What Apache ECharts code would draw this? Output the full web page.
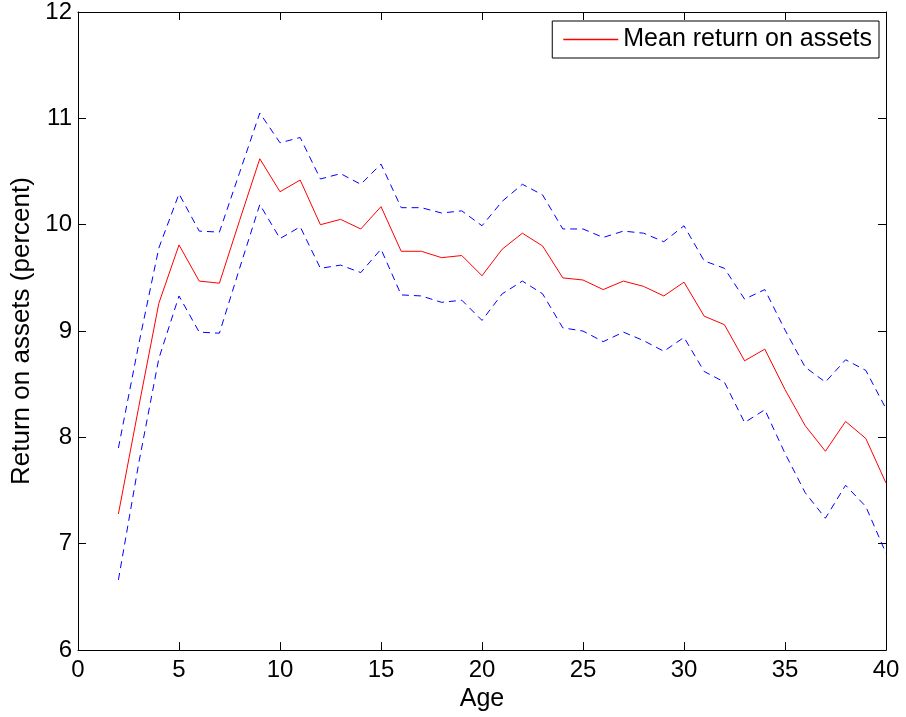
<!DOCTYPE html>
<html>
<head>
<meta charset="utf-8">
<script src="https://cdn.jsdelivr.net/npm/echarts@6/dist/echarts.min.js"></script>
<style>
html,body{margin:0;padding:0;background:#fff;}
#chart{width:906px;height:717px;}
</style>
</head>
<body>
<div id="chart"></div>
<script>
const ages = [2,3,4,5,6,7,8,9,10,11,12,13,14,15,16,17,18,19,20,21,22,23,24,25,26,27,28,29,30,31,32,33,34,35,36,37,38,39,40];
const meanReturn = [7.28,8.28,9.26,9.81,9.47,9.45,10.04,10.62,10.31,10.42,10.00,10.05,9.96,10.17,9.75,9.75,9.69,9.71,9.52,9.77,9.92,9.80,9.50,9.48,9.39,9.47,9.42,9.33,9.46,9.14,9.06,8.72,8.83,8.45,8.11,7.87,8.15,7.99,7.57];
const upperBand = [7.90,8.87,9.78,10.29,9.94,9.93,10.49,11.05,10.77,10.82,10.43,10.48,10.38,10.57,10.16,10.16,10.11,10.13,9.99,10.22,10.38,10.28,9.96,9.96,9.88,9.94,9.92,9.84,9.99,9.66,9.59,9.30,9.39,9.01,8.66,8.52,8.73,8.63,8.27];
const lowerBand = [6.66,7.75,8.74,9.33,8.99,8.98,9.59,10.19,9.87,9.98,9.59,9.62,9.55,9.77,9.34,9.33,9.27,9.29,9.10,9.35,9.47,9.35,9.03,9.00,8.90,8.99,8.91,8.81,8.94,8.62,8.52,8.14,8.26,7.85,7.48,7.24,7.55,7.35,6.91];
const xTicks = {min:0, max:40, interval:5};
const yTicks = {min:6, max:12, interval:1};
const legendLabel = 'Mean return on assets';

const pair = arr => ages.map((a,i)=>[a,arr[i]]);
const font = 'Liberation Sans, Arial, Helvetica, sans-serif';
const chart = echarts.init(document.getElementById('chart'), null, {renderer:'canvas'});
const axisCommon = {
  axisLine:{show:true,onZero:false,lineStyle:{color:'#000',width:1}},
  axisTick:{show:true,inside:true,length:8,lineStyle:{color:'#000',width:1}},
  splitLine:{show:false}
};
chart.setOption({
  animation:false,
  backgroundColor:'#fff',
  grid:{left:78,right:20,top:11,bottom:66,containLabel:false},
  legend:{
    data:[{name:legendLabel,icon:'rect',itemStyle:{color:'#ff0000',borderWidth:0,opacity:1}}],
    right:27, top:21,
    orient:'vertical',
    backgroundColor:'#fff',
    borderColor:'#000', borderWidth:1,
    padding:[6,7,6,11],
    itemWidth:55, itemHeight:1.5, itemGap:0,
    textStyle:{fontFamily:font,fontSize:25,color:'#000',padding:[0,0,0,0]},
    selectedMode:false
  },
  xAxis:[
    Object.assign({type:'value',position:'bottom',min:xTicks.min,max:xTicks.max,interval:xTicks.interval,
      name:'Age',nameLocation:'middle',nameGap:31,
      nameTextStyle:{fontFamily:font,fontSize:25,color:'#000'},
      axisLabel:{show:true,margin:8,fontFamily:font,fontSize:24,color:'#000'}},axisCommon),
    Object.assign({type:'value',position:'top',min:xTicks.min,max:xTicks.max,interval:xTicks.interval,
      axisLabel:{show:false}},axisCommon)
  ],
  yAxis:[
    Object.assign({type:'value',position:'left',min:yTicks.min,max:yTicks.max,interval:yTicks.interval,
      name:'Return on assets (percent)',nameLocation:'middle',nameGap:42,
      nameTextStyle:{fontFamily:font,fontSize:26,color:'#000'},
      axisLabel:{show:true,margin:6,fontFamily:font,fontSize:24,color:'#000'}},axisCommon),
    Object.assign({type:'value',position:'right',min:yTicks.min,max:yTicks.max,interval:yTicks.interval,
      axisLabel:{show:false}},axisCommon)
  ],
  series:[
    {name:'Upper',type:'line',data:pair(upperBand),symbol:'none',xAxisIndex:0,yAxisIndex:0,
      lineStyle:{color:'#0000ff',width:1,type:[7,5]},z:2},
    {name:'Lower',type:'line',data:pair(lowerBand),symbol:'none',xAxisIndex:0,yAxisIndex:0,
      lineStyle:{color:'#0000ff',width:1,type:[7,5]},z:2},
    {name:legendLabel,type:'line',data:pair(meanReturn),symbol:'none',xAxisIndex:0,yAxisIndex:0,
      itemStyle:{color:'#ff0000'},
      lineStyle:{color:'#ff0000',width:1},z:3}
  ]
});
</script>
</body>
</html>
